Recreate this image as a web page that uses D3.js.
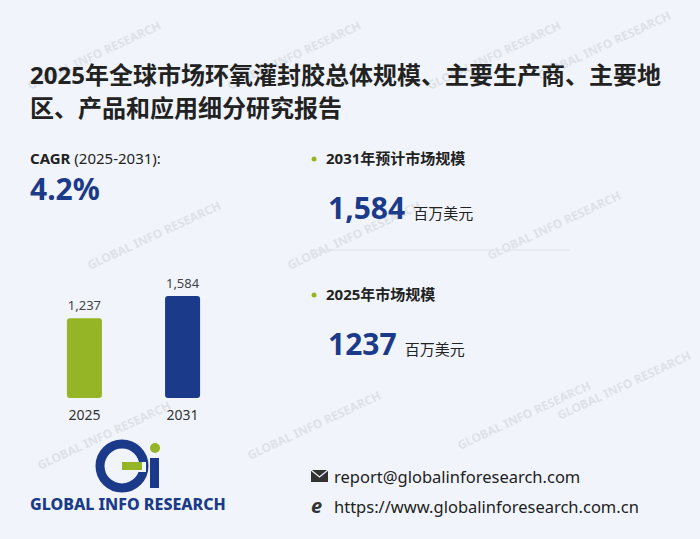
<!DOCTYPE html>
<html><head><meta charset="utf-8">
<script src="https://cdn.jsdelivr.net/npm/d3@7"></script>
<style>body{margin:0;background:#f1f5fb;font-family:"Noto Sans","Noto Sans CJK SC",sans-serif}</style>
</head><body><div id="chart"></div>
<script>
var years = ["2025", "2031"]
var values = [1237, 1584]
var valueLabels = ["1,237", "1,584"]
var barColors = ["#95b526", "#1b3a8a"]
var width = 700, height = 539
var font = '"Noto Sans","Noto Sans CJK SC",sans-serif'

var svg = d3.select("#chart").append("svg").attr("width", width).attr("height", height)
svg.append("rect").attr("width", width).attr("height", height).attr("fill", "#f1f5fb")

// watermarks
var wm = [[30,90],[230,90],[430,90],[540,80],[90,270],[290,270],[490,260],[40,470],[250,460],[460,450],[560,420]]
wm.forEach(function (p) {
  svg.append("text").attr("transform", "translate(" + p[0] + "," + p[1] + ") rotate(-25)")
    .attr("fill", "#dde2e8").style("font-family", font).style("font-weight", 700).style("font-size", 12)
    .text("GLOBAL INFO RESEARCH")
})

// title
svg.append("text").attr("x", 30).attr("y", 84).style("font-family", font).style("font-weight", 700)
  .style("font-size", 24).attr("fill", "#222").text("2025年全球市场环氧灌封胶总体规模、主要生产商、主要地")
svg.append("text").attr("x", 30).attr("y", 117).style("font-family", font).style("font-weight", 700)
  .style("font-size", 24).attr("fill", "#222").text("区、产品和应用细分研究报告")

// CAGR
var cg = svg.append("text").attr("x", 30).attr("y", 164).style("font-family", font).style("font-size", 15).attr("fill", "#222")
cg.append("tspan").style("font-weight", 700).text("CAGR")
cg.append("tspan").text(" (2025-2031):")
svg.append("text").attr("x", 30).attr("y", 200).style("font-family", font).style("font-weight", 700)
  .style("font-size", 30).attr("fill", "#1b3a8a").text("4.2%")

// right side stats
function stat(y, label, big) {
  svg.append("circle").attr("cx", 314).attr("cy", y - 5).attr("r", 2.5).attr("fill", "#95b526")
  svg.append("text").attr("x", 326).attr("y", y).style("font-family", font).style("font-weight", 700)
    .style("font-size", 15).attr("fill", "#222").text(label)
  var t = svg.append("text").attr("x", 328).attr("y", y + 55).style("font-family", font).attr("fill", "#1b3a8a")
  t.append("tspan").style("font-weight", 700).style("font-size", 30).text(big)
  t.append("tspan").attr("dx", 8).style("font-size", 15).attr("fill", "#222").text("百万美元")
}
stat(164, "2031年预计市场规模", valueLabels[1])
svg.append("line").attr("x1", 310).attr("x2", 570).attr("y1", 250).attr("y2", 250).attr("stroke", "#dde3ea")
stat(300, "2025年市场规模", String(values[0]))

// bars
var x = d3.scaleBand().domain(years).range([35.5, 231.5]).paddingInner(0.643).paddingOuter(0.32)
var y = d3.scaleLinear().domain([0, d3.max(values)]).range([398, 296])
svg.selectAll(".bar").data(years).enter().append("rect")
  .attr("x", function (d) { return x(d) }).attr("width", x.bandwidth())
  .attr("y", function (d, i) { return y(values[i]) })
  .attr("height", function (d, i) { return 398 - y(values[i]) })
  .attr("rx", 3).attr("fill", function (d, i) { return barColors[i] })
svg.selectAll(".vl").data(years).enter().append("text")
  .attr("x", function (d) { return x(d) + x.bandwidth() / 2 }).attr("y", function (d, i) { return y(values[i]) - 8 })
  .attr("text-anchor", "middle").style("font-family", font).style("font-size", 13).attr("fill", "#444")
  .text(function (d, i) { return valueLabels[i] })
svg.selectAll(".yl").data(years).enter().append("text")
  .attr("x", function (d) { return x(d) + x.bandwidth() / 2 }).attr("y", 420)
  .attr("text-anchor", "middle").style("font-family", font).style("font-size", 14).attr("fill", "#333")
  .text(function (d) { return d })

// logo
var lg = svg.append("g")
lg.append("circle").attr("cx", 122).attr("cy", 466).attr("r", 22).attr("fill", "none").attr("stroke", "#1b3a8a").attr("stroke-width", 9)
lg.append("rect").attr("x", 122).attr("y", 462).attr("width", 24).attr("height", 10).attr("fill", "#f1f5fb")
lg.append("rect").attr("x", 122).attr("y", 462).attr("width", 20).attr("height", 8).attr("fill", "#95b526")
lg.append("rect").attr("x", 150).attr("y", 458).attr("width", 9).attr("height", 30).attr("fill", "#1b3a8a")
lg.append("circle").attr("cx", 155).attr("cy", 448).attr("r", 5).attr("fill", "#95b526")
svg.append("text").attr("x", 30).attr("y", 510).style("font-family", font).style("font-weight", 800)
  .style("font-size", 16).attr("fill", "#1b3a8a").text("GLOBAL INFO RESEARCH")

// contacts
svg.append("rect").attr("x", 311).attr("y", 470).attr("width", 17).attr("height", 12).attr("fill", "#333")
svg.append("path").attr("d", "M311,470 L319.5,477 L328,470").attr("stroke", "#f1f5fb").attr("fill", "none").attr("stroke-width", 1.2)
svg.append("text").attr("x", 334).attr("y", 483).style("font-family", font).style("font-size", 16.5).attr("fill", "#222").text("report@globalinforesearch.com")
svg.append("text").attr("x", 311).attr("y", 513).style("font-family", font).style("font-size", 20).style("font-weight", 700).style("font-style", "italic").attr("fill", "#333").text("e")
svg.append("text").attr("x", 334).attr("y", 513).style("font-family", font).style("font-size", 16.5).attr("fill", "#222").text("https://www.globalinforesearch.com.cn")
</script></body></html>
